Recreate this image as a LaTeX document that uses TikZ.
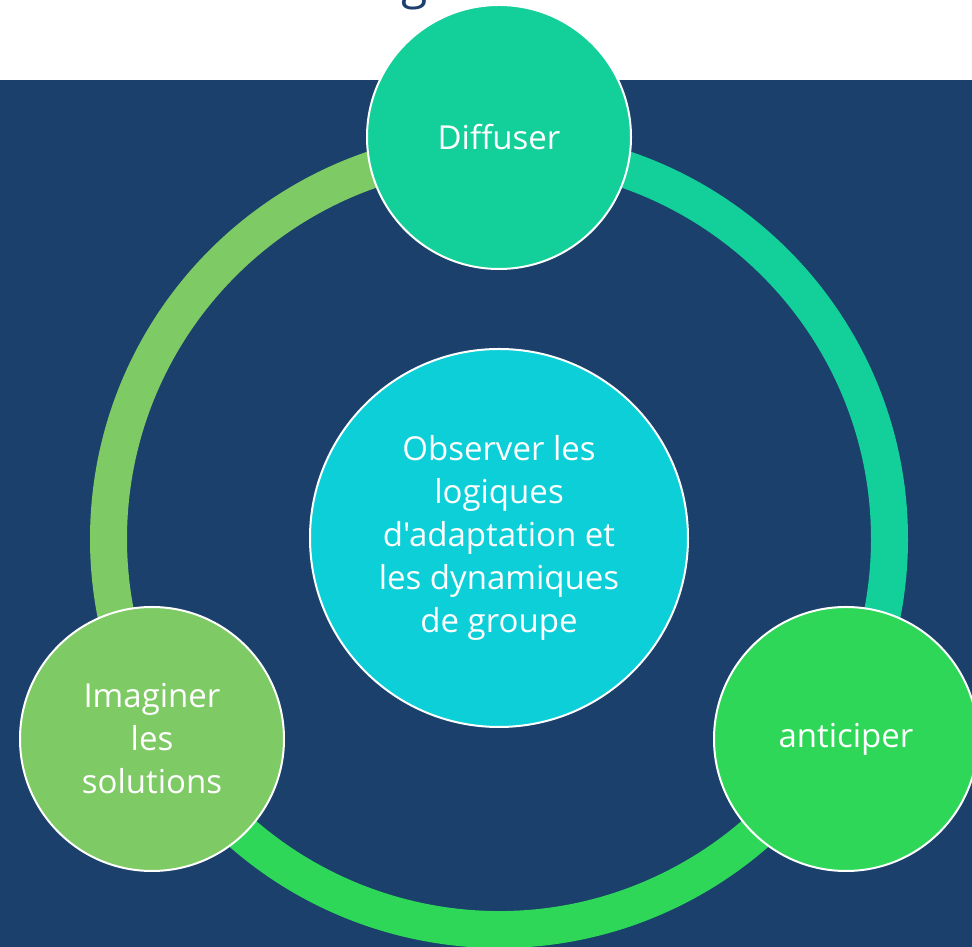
\documentclass[tikz,border=0pt]{standalone}
\usepackage{fontspec}
\newfontfamily\osans{Open Sans}
\setmainfont{Open Sans}
\definecolor{bgblue}{HTML}{1A406B}
\definecolor{titleblue}{HTML}{1F3F6E}
\definecolor{teal}{HTML}{13CF9A}
\definecolor{cyanc}{HTML}{0CCFD8}
\definecolor{brightgreen}{HTML}{2FD758}
\definecolor{lightgreen}{HTML}{7ECA64}
\tikzset{
  ring/.style={line width=37pt},
  bubble/.style={circle, draw=white, line width=2pt, minimum size=264pt, inner sep=0pt,
    text=white, align=center, font=\osans\fontsize{33}{43}\selectfont},
  bigbubble/.style={bubble, minimum size=378pt},
}
\begin{document}
\begin{tikzpicture}[x=1pt,y=1pt]
\useasboundingbox (0,0) rectangle (972,947);
\fill[white] (0,0) rectangle (972,947);
\fill[bgblue] (0,0) rectangle (972,867);
\node[anchor=base, text=titleblue, font=\osans\fontsize{48}{58}\selectfont, inner sep=0pt] (title) at (415,948) {g};
\coordinate (c) at (499,408);
\draw[ring, lightgreen] (c) ++(90:390.5) arc[start angle=90, end angle=212, radius=390.5];
\draw[ring, teal] (c) ++(90:390.5) arc[start angle=90, end angle=-32, radius=390.5];
\draw[ring, brightgreen] (c) ++(210:390.5) arc[start angle=210, end angle=330, radius=390.5];
\node[bubble, fill=teal] (diff) at (499,810) {Diffuser};
\node[bigbubble, fill=cyanc] (obs) at (499,409) {Observer les\\logiques\\d'adaptation et\\les dynamiques\\de groupe};
\node[bubble, fill=lightgreen] (imag) at (152,208) {Imaginer\\les\\solutions};
\node[bubble, fill=brightgreen] (anti) at (846,208) {anticiper};
\end{tikzpicture}
\end{document}
